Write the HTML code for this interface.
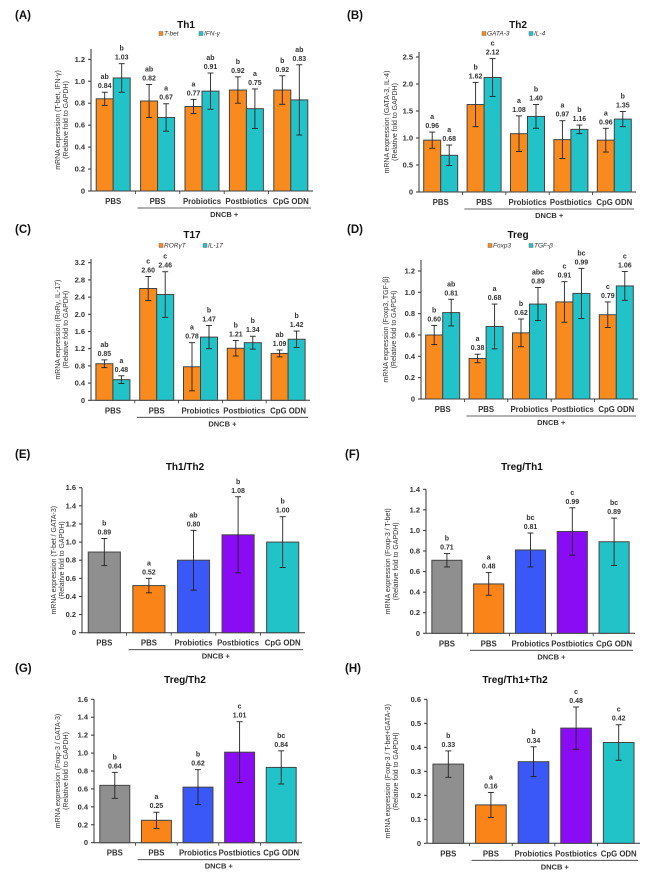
<!DOCTYPE html>
<html><head><meta charset="utf-8"><style>
html,body{margin:0;padding:0;background:#fff;}
svg{display:block;font-family:"Liberation Sans",Arial,sans-serif;}
</style></head><body>
<svg id="fig" width="661" height="875" viewBox="0 0 661 875"></svg>
<script>
const categories = ["PBS","PBS","Probiotics","Postbiotics","CpG ODN"];
// Panel A
const tbetVals=[0.84,0.82,0.77,0.92,0.92], tbetErr=[0.06,0.15,0.065,0.12,0.13], tbetSig=["ab","ab","a","b","b"];
const ifngVals=[1.03,0.67,0.91,0.75,0.83], ifngErr=[0.13,0.125,0.165,0.18,0.32], ifngSig=["b","a","ab","a","ab"];
// Panel B
const gataVals=[0.96,1.62,1.08,0.97,0.96], gataErr=[0.15,0.41,0.33,0.35,0.22], gataSig=["a","b","a","a","a"];
const il4Vals=[0.68,2.12,1.40,1.16,1.35], il4Err=[0.19,0.35,0.22,0.08,0.14], il4Sig=["a","c","b","b","b"];
// Panel C
const rorVals=[0.85,2.60,0.78,1.21,1.09], rorErr=[0.09,0.28,0.56,0.18,0.08], rorSig=["ab","c","a","b","ab"];
const il17Vals=[0.48,2.46,1.47,1.34,1.42], il17Err=[0.09,0.53,0.27,0.15,0.19], il17Sig=["a","c","b","b","b"];
// Panel D
const foxVals=[0.60,0.38,0.62,0.91,0.79], foxErr=[0.09,0.04,0.13,0.19,0.12], foxSig=["b","a","b","c","c"];
const tgfVals=[0.81,0.68,0.89,0.99,1.06], tgfErr=[0.125,0.21,0.155,0.235,0.135], tgfSig=["ab","a","abc","bc","c"];
// Panels E-H
const th1th2Vals=[0.89,0.52,0.80,1.08,1.00], th1th2Err=[0.15,0.08,0.33,0.42,0.28], th1th2Sig=["b","a","ab","b","b"];
const tregth1Vals=[0.71,0.48,0.81,0.99,0.89], tregth1Err=[0.065,0.11,0.165,0.23,0.23], tregth1Sig=["b","a","bc","c","bc"];
const tregth2Vals=[0.64,0.25,0.62,1.01,0.84], tregth2Err=[0.145,0.09,0.195,0.34,0.185], tregth2Sig=["b","a","b","c","bc"];
const tregallVals=[0.33,0.16,0.34,0.48,0.42], tregallErr=[0.055,0.052,0.062,0.088,0.074], tregallSig=["b","a","b","c","c"];
const ticksA=[0,0.2,0.4,0.6,0.8,1.0,1.2], ticksB=[0,0.5,1.0,1.5,2.0,2.5], ticksC=[0,0.4,0.8,1.2,1.6,2.0,2.4,2.8,3.2];
const ticksD=[0,0.2,0.4,0.6,0.8,1.0,1.2], ticksE=[0,0.2,0.4,0.6,0.8,1.0,1.2,1.4,1.6], ticksF=[0,0.2,0.4,0.6,0.8,1.0,1.2,1.4];
const ticksG=[0,0.2,0.4,0.6,0.8,1.0,1.2,1.4,1.6], ticksH=[0,0.1,0.2,0.3,0.4,0.5,0.6];

const ORANGE="#f98a1e", TEAL="#22c2c9";
const GROUPCOL=["#8f8f8f","#fb8418","#3a57f7","#8a0cf5","#22c2c9"];
const NS="http://www.w3.org/2000/svg";
const svg=document.getElementById("fig");
function mk(tag,attrs,parent){const e=document.createElementNS(NS,tag);for(const k in attrs)e.setAttribute(k,attrs[k]);(parent||svg).appendChild(e);return e;}
function txt(s,x,y,size,parent,extra){const t=mk("text",Object.assign({x:x,y:y,"font-size":size,"font-weight":"bold","text-anchor":"middle",fill:"#222"},extra||{}),parent);t.textContent=s;return t;}

const panels=[
 {id:"A",lab:[15,19],title:"Th1",tx:186,ty:28,x0:91,x1:313,y0:191,ytop:49,tmax:1.2,ymaxY:59.3,ticks:ticksA,ytx:[60,68],
  series:[[tbetVals,tbetErr,tbetSig,ORANGE],[ifngVals,ifngErr,ifngSig,TEAL]],legend:{y:35,items:[[159,"T-bet"],[199,"IFN-γ"]]},
  yt:["mRNA expression (T-bet, IFN-γ)","(Relative fold to GAPDH)"]},
 {id:"B",lab:[347,19],title:"Th2",tx:518,ty:28,x0:419,x1:636,y0:192,ytop:52,tmax:2.5,ymaxY:57,ticks:ticksB,ytx:[389,397],
  series:[[gataVals,gataErr,gataSig,ORANGE],[il4Vals,il4Err,il4Sig,TEAL]],legend:{y:35,items:[[482,"GATA-3"],[529,"IL-4"]]},
  yt:["mRNA expression (GATA-3, IL-4)","(Relative fold to GAPDH)"]},
 {id:"C",lab:[15,233],title:"T17",tx:192,ty:238,x0:91,x1:310,y0:400.3,ytop:259,tmax:3.2,ymaxY:262.7,ticks:ticksC,ytx:[60,68],
  series:[[rorVals,rorErr,rorSig,ORANGE],[il17Vals,il17Err,il17Sig,TEAL]],legend:{y:247,items:[[159,"RORγT"],[203,"IL-17"]]},
  yt:["mRNA expression (RoRγ, IL-17)","(Relative fold to GAPDH)"]},
 {id:"D",lab:[347,233],title:"Treg",tx:518,ty:238,x0:421,x1:638,y0:399,ytop:260,tmax:1.2,ymaxY:271,ticks:ticksD,ytx:[388,396],
  series:[[foxVals,foxErr,foxSig,ORANGE],[tgfVals,tgfErr,tgfSig,TEAL]],legend:{y:247,items:[[488,"Foxp3"],[529,"TGF-β"]]},
  yt:["mRNA expression (Foxp3, TGF-β)","(Relative fold to GAPDH)"]},
 {id:"E",lab:[15,458],title:"Th1/Th2",tx:185,ty:470,x0:82,x1:305,y0:632.7,ymaxY:487.7,ytop:487.7,tmax:1.6,ticks:ticksE,ytx:[56,64],
  single:[th1th2Vals,th1th2Err,th1th2Sig],yt:["mRNA expression (T-bet / GATA-3)","(Relative fold to GAPDH)"]},
 {id:"F",lab:[345,458],title:"Treg/Th1",tx:522,ty:470,x0:426,x1:635,y0:633.3,ymaxY:489.3,ytop:489.3,tmax:1.4,ticks:ticksF,ytx:[390,398],
  single:[tregth1Vals,tregth1Err,tregth1Sig],yt:["mRNA expression (Foxp-3 / T-bet)","(Relative fold to GAPDH)"]},
 {id:"G",lab:[15,672],title:"Treg/Th2",tx:185,ty:683,x0:94,x1:302,y0:842.7,ymaxY:699.3,ytop:699.3,tmax:1.6,ticks:ticksG,ytx:[60,68],
  single:[tregth2Vals,tregth2Err,tregth2Sig],yt:["mRNA expression (Foxp-3 / GATA-3)","(Relative fold to GAPDH)"]},
 {id:"H",lab:[345,672],title:"Treg/Th1+Th2",tx:515,ty:683,x0:427,x1:640,y0:843.3,ymaxY:699.3,ytop:699.3,tmax:0.6,ticks:ticksH,ytx:[390,398],
  single:[tregallVals,tregallErr,tregallSig],yt:["mRNA expression (Foxp-3 / T-bet+GATA-3)","(Relative fold to GAPDH)"]}
];

panels.forEach(p=>{
 const g=mk("g",{});
 
 
 const yS=v=>p.y0-(v/p.tmax)*(p.y0-p.ymaxY);
 const band=(p.x1-p.x0)/5;
 const cx=i=>p.x0+band*(i+0.5);
 const pl=txt("("+p.id+")",p.lab[0],p.lab[1],11.5,g,{"text-anchor":"start",fill:"#111"});
 
 
 const tt=txt(p.title,p.tx,p.ty,10,g,{fill:"#111"});
 
 
 if(p.legend){
  const cols=[ORANGE,TEAL];
  p.legend.items.forEach((it,k)=>{
   const le=mk("g",{},g);
   
   
   mk("rect",{x:it[0],y:p.legend.y-3.5,width:4,height:4,fill:cols[k],stroke:"#555","stroke-width":0.4},le);
   txt(it[1],it[0]+5,p.legend.y+0.5,6.5,le,{"text-anchor":"start","font-style":"italic","font-weight":"normal",fill:"#333"});
  });
 }
 const ax=mk("line",{x1:p.x0,y1:p.ytop,x2:p.x0,y2:p.y0,stroke:"#333","stroke-width":1},g);
 
 
 const xa=mk("line",{x1:p.x0,y1:p.y0,x2:p.x1,y2:p.y0,stroke:"#333","stroke-width":1},g);
 
 
 p.ticks.forEach(t=>{
  const y=yS(t);
  mk("line",{x1:p.x0-3,y1:y,x2:p.x0,y2:y,stroke:"#333","stroke-width":1},g);
  const tl=txt(t===0?"0":t.toFixed(1),p.x0-6,y+2.5,7.5,g,{"text-anchor":"end",fill:"#333"});
  
  
 });
 for(let i=1;i<5;i++){const x=p.x0+band*i;mk("line",{x1:x,y1:p.y0,x2:x,y2:p.y0+3,stroke:"#333","stroke-width":0.8},g);}
 const ym=(p.ytop+p.y0)/2;
 p.yt.forEach((s,k)=>{
  const t=txt(s,p.ytx[k],ym,7,g,{"font-weight":"normal",fill:"#333",transform:"rotate(-90 "+p.ytx[k]+" "+ym+")"});
  
  
 });
 categories.forEach((c,i)=>{
  const t=txt(c,cx(i),p.y0+13,7.8,g,{fill:"#333"});
  
  
 });
 const dl=mk("line",{x1:p.x0+band*1+2,y1:p.y0+17,x2:p.x1-2,y2:p.y0+17,stroke:"#333","stroke-width":0.8},g);
 
 
 const dt=txt("DNCB +",p.x0+band*3,p.y0+26,7.5,g,{fill:"#333"});
 
 
 function bar(x,w,v,e,sig,col){
  const bg=mk("g",{},g);
  
  
  mk("rect",{x:x,y:yS(v),width:w,height:p.y0-yS(v),fill:col,stroke:"#444","stroke-width":1},bg);
  const bx=x+w/2, top=yS(v+e), bot=yS(v-e);
  mk("line",{x1:bx,y1:top,x2:bx,y2:bot,stroke:"#222","stroke-width":0.9},bg);
  mk("line",{x1:bx-3,y1:top,x2:bx+3,y2:top,stroke:"#222","stroke-width":0.9},bg);
  mk("line",{x1:bx-3,y1:bot,x2:bx+3,y2:bot,stroke:"#222","stroke-width":0.9},bg);
  txt(v.toFixed(2),bx,top-4,7,bg,{fill:"#333"});
  txt(sig,bx,top-13,7,bg,{fill:"#333"});
 }
 if(p.series){
  const bw=17;
  p.series.forEach((s,k)=>{
   s[0].forEach((v,i)=>{bar(cx(i)-bw+k*bw,bw,v,s[1][i],s[2][i],s[3]);});
  });
 } else {
  const bw=band*0.72;
  p.single[0].forEach((v,i)=>{bar(cx(i)-bw/2,bw,v,p.single[1][i],p.single[2][i],GROUPCOL[i]);});
 }
});
</script>
</body></html>
